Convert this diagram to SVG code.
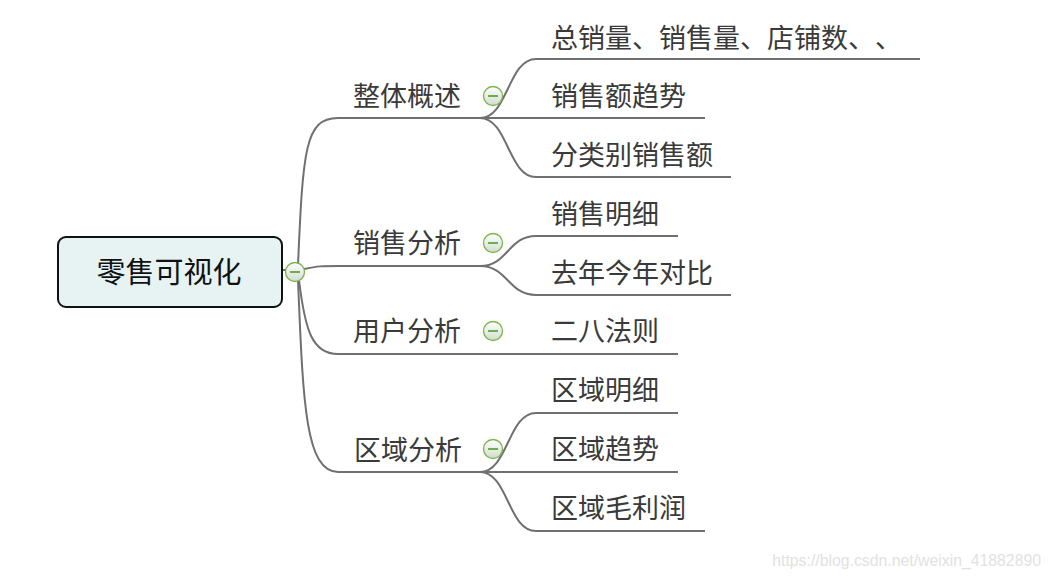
<svg xmlns="http://www.w3.org/2000/svg" width="1052" height="578" viewBox="0 0 1052 578">
<style>
.c{fill:none;stroke:#707070;stroke-width:2}
.t{font-family:"Noto Sans CJK SC","Noto Sans",sans-serif;font-size:27px;fill:#3a3a3a}
.r{font-family:"Noto Sans CJK SC","Noto Sans",sans-serif;font-size:29px;fill:#111}
.k{fill:url(#g);stroke:#7ab648;stroke-width:1.3}
.m{stroke:#3f9a1a;stroke-width:1.5}
</style>
<defs>
<linearGradient id="g" x1="0" y1="0" x2="0" y2="1">
<stop offset="0" stop-color="#ffffff"/>
<stop offset="1" stop-color="#d2dcd0"/>
</linearGradient>
</defs>
<rect width="1052" height="578" fill="#ffffff"/>
<g id="connectors">
<path class="c" d="M282,270 L287,270"/>
<path class="c" d="M298,265 C303,150 305,118 338,118 L483,118"/>
<path class="c" d="M304,269 C318,266 322,266 338,266 L483,266"/>
<path class="c" d="M299,280 C305,330 312,354 338,354 L678,354"/>
<path class="c" d="M298,280 C303,400 305,472 338,472 L483,472"/>
<path class="c" d="M480,118 C508,118 508,59 536,59 L920,59"/>
<path class="c" d="M480,118 L705,118"/>
<path class="c" d="M480,118 C508,118 508,177 536,177 L731,177"/>
<path class="c" d="M480,266 C508,266 508,236 536,236 L678,236"/>
<path class="c" d="M480,266 C508,266 508,295 536,295 L731,295"/>
<path class="c" d="M480,472 C508,472 508,413 536,413 L678,413"/>
<path class="c" d="M480,472 L678,472"/>
<path class="c" d="M480,472 C508,472 508,531 536,531 L705,531"/>
</g>
<g id="root">
<rect x="58" y="237" width="224" height="70" rx="8" fill="#e7f3f3" stroke="#111" stroke-width="2"/>
<text class="r" x="169" y="283" text-anchor="middle">零售可视化</text>
<circle class="k" cx="295" cy="272" r="9.5"/>
<line class="m" x1="290" y1="272" x2="300" y2="272"/>
</g>
<g id="n1">
<text class="t" x="353" y="106">整体概述</text>
<circle class="k" cx="493" cy="96" r="9.5"/>
<line class="m" x1="488" y1="96" x2="498" y2="96"/>
</g>
<g id="n2">
<text class="t" x="353" y="253">销售分析</text>
<circle class="k" cx="493" cy="243" r="9.5"/>
<line class="m" x1="488" y1="243" x2="498" y2="243"/>
</g>
<g id="n3">
<text class="t" x="353" y="341">用户分析</text>
<circle class="k" cx="493" cy="331" r="9.5"/>
<line class="m" x1="488" y1="331" x2="498" y2="331"/>
</g>
<g id="n4">
<text class="t" x="354" y="460">区域分析</text>
<circle class="k" cx="493" cy="449" r="9.5"/>
<line class="m" x1="488" y1="449" x2="498" y2="449"/>
</g>
<g id="n1a"><text class="t" x="551" y="48">总销量、销售量、店铺数、<tspan x="875">、</tspan></text></g>
<g id="n1b"><text class="t" x="551" y="106">销售额趋势</text></g>
<g id="n1c"><text class="t" x="551" y="165">分类别销售额</text></g>
<g id="n2a"><text class="t" x="551" y="224">销售明细</text></g>
<g id="n2b"><text class="t" x="551" y="283">去年今年对比</text></g>
<g id="n3a"><text class="t" x="551" y="341">二八法则</text></g>
<g id="n4a"><text class="t" x="551" y="400">区域明细</text></g>
<g id="n4b"><text class="t" x="551" y="459">区域趋势</text></g>
<g id="n4c"><text class="t" x="551" y="518">区域毛利润</text></g>
<text x="1041" y="566" text-anchor="end" font-family="Liberation Sans, sans-serif" font-size="15.8" fill="#e2e2e2">https://blog.csdn.net/weixin_41882890</text>
</svg>
